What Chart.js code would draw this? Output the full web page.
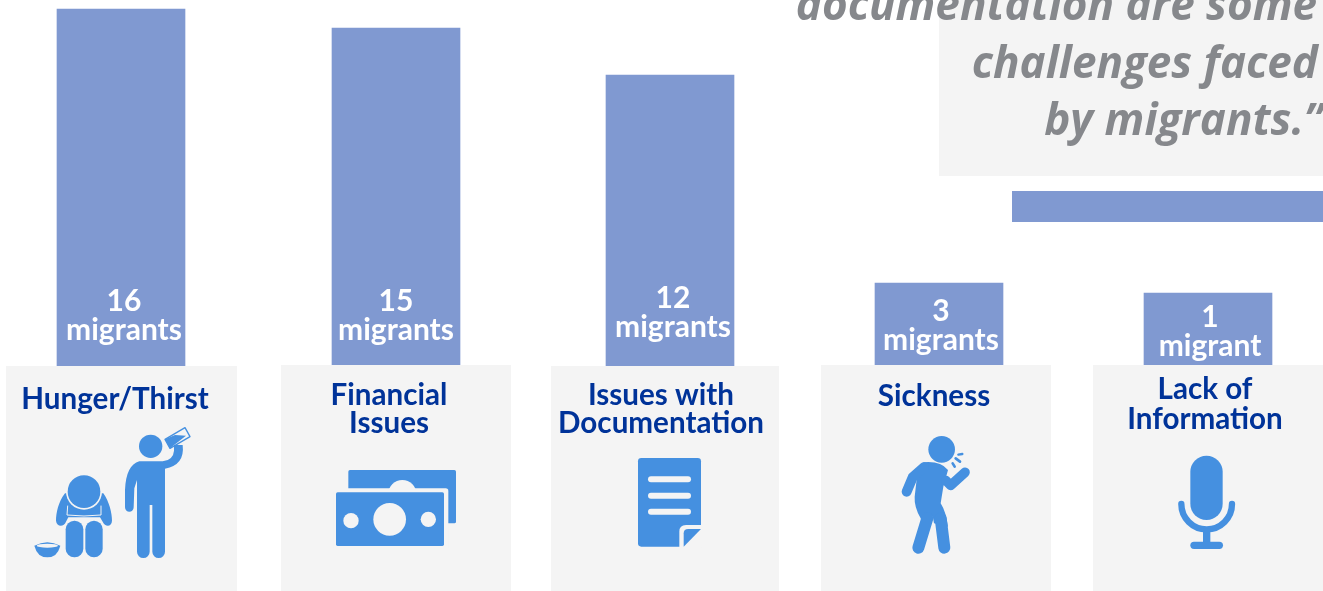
<!DOCTYPE html>
<html><head><meta charset="utf-8">
<style>html,body{margin:0;padding:0;background:#fff;overflow:hidden}canvas{display:block}</style>
<script src="https://cdn.jsdelivr.net/npm/chart.js@4"></script></head>
<body><canvas id="c" width="1323" height="591"></canvas>
<script>
// Data
const categories = [["Hunger/Thirst"],["Financial","Issues"],["Issues with","Documentation"],["Sickness"],["Lack of","Information"]];
const migrantCounts = [16,15,12,3,1];
const countUnits = ["migrants","migrants","migrants","migrants","migrant"];
// The picture's bars are not drawn proportional to the counts: drawn heights, in count units
const barHeights = [16,15.148,13.042,3.72,3.272];
const quoteLines = ["documentation are some","challenges faced","by migrants.”"];

// Layout only
const barCenters = [121,396,670,939,1208];
const labelCenters = [124,396,673,941,1210];
const countY = [301,301,298,311,317];
const unitY = [330,330,327,340,346];
const panels = [[6,366,231],[281,365,230],[551,366,228],[821,365,230],[1093,365,230]];
const titleCenters = [115,389,661,934,1205];
const titleY = [[399],[395,423],[395,423],[396],[389,419]];
const BAR='#8099d1', PANEL='#f4f4f4', ICON='#4590e0', TITLE='#003399', QUOTE='#86888c';

function P(ctx,ox,oy,fn){ctx.save();ctx.translate(ox,oy);ctx.scale(1/3,1/3);ctx.fillStyle=ICON;ctx.strokeStyle=ICON;ctx.lineCap='round';ctx.lineJoin='round';fn(ctx);ctx.restore();}
function circ(c,x,y,r,col){c.beginPath();c.arc(x,y,r,0,Math.PI*2);if(col)c.fillStyle=col;c.fill();c.fillStyle=ICON;}
function rr(c,x,y,w,h,r,col){c.beginPath();c.roundRect(x,y,w,h,r);if(col)c.fillStyle=col;c.fill();c.fillStyle=ICON;}
function line(c,pts,w,col){c.beginPath();pts.forEach((p,i)=>i?c.lineTo(p[0],p[1]):c.moveTo(p[0],p[1]));c.lineWidth=w;c.strokeStyle=col||ICON;c.stroke();c.strokeStyle=ICON;}

function iconHunger(c){
  c.beginPath();c.moveTo(195,640);c.bezierCurveTo(175,665,168,700,168,722);c.bezierCurveTo(170,742,192,742,198,725);
  c.lineTo(205,712);c.lineTo(300,712);c.lineTo(308,725);c.bezierCurveTo(315,742,335,742,336,722);c.bezierCurveTo(336,700,328,665,310,640);c.closePath();c.fill();
  line(c,[[203,678],[201,705],[252,708],[303,705],[303,678]],3,PANEL);
  rr(c,195,720,57,114,28,PANEL);rr(c,197,722,53,110,26);
  rr(c,254,720,56,114,28,PANEL);rr(c,256,722,52,110,26);
  circ(c,252,635,54,PANEL);circ(c,252,635,49);
  c.beginPath();c.moveTo(103,797);c.quadraticCurveTo(112,832,142,832);c.quadraticCurveTo(172,832,181,797);c.quadraticCurveTo(142,776,103,797);c.closePath();c.fill();
  c.beginPath();c.ellipse(142,797,32,6,0,0,Math.PI*2);c.fillStyle=PANEL;c.fill();c.fillStyle=ICON;
  circ(c,452,499,35);
  c.beginPath();c.moveTo(418,544);c.lineTo(488,544);c.quadraticCurveTo(520,540,522,512);c.lineTo(522,495);c.lineTo(548,495);
  c.quadraticCurveTo(555,555,495,566);c.lineTo(495,815);c.arc(476,815,19,0,Math.PI);c.lineTo(457,675);c.lineTo(449,675);c.lineTo(449,815);c.arc(430,815,19,0,Math.PI);
  c.lineTo(411,600);c.lineTo(403,625);c.lineTo(401,682);c.arc(388,682,13,0,Math.PI);c.lineTo(375,630);c.quadraticCurveTo(378,555,418,544);c.closePath();c.fill();
  c.beginPath();c.moveTo(495,478);c.lineTo(555,443);c.lineTo(570,470);c.lineTo(510,505);c.closePath();c.lineWidth=4;c.stroke();
  c.beginPath();c.moveTo(495,478);c.lineTo(525,465);c.lineTo(558,467);c.lineTo(510,505);c.closePath();c.fill();
}
function iconMoney(c){
  rr(c,235,570,323,160,5);
  circ(c,397,642,42,PANEL);
  rr(c,190,625,345,185,8,PANEL);
  rr(c,198,637,324,161,5);
  circ(c,359,718,49,PANEL);circ(c,243,722,23,PANEL);circ(c,475,718,23,PANEL);
}
function iconDoc(c){
  rr(c,294,534,189,266,10);
  [598,647,695].forEach(y=>line(c,[[333,y],[444,y]],18,PANEL));
  c.beginPath();c.moveTo(418,802);c.lineTo(418,755);c.quadraticCurveTo(418,735,438,735);c.lineTo(485,735);c.lineTo(485,802);c.closePath();c.fillStyle=PANEL;c.fill();c.fillStyle=ICON;
  c.beginPath();c.moveTo(431,800);c.lineTo(431,760);c.quadraticCurveTo(431,747,445,747);c.lineTo(483,747);c.closePath();c.fill();
}
function iconSick(c){
  circ(c,395,538,40);
  c.beginPath();c.moveTo(340,577);c.quadraticCurveTo(392,572,414,600);c.lineTo(400,650);c.lineTo(392,700);c.quadraticCurveTo(408,725,414,770);c.lineTo(372,760);c.lineTo(368,738);c.lineTo(345,790);c.lineTo(332,745);c.quadraticCurveTo(312,710,314,680);c.lineTo(320,628);c.closePath();c.fill();
  line(c,[[342,592],[308,622],[290,665]],30);
  line(c,[[408,632],[422,646],[465,607]],29);
  line(c,[[352,745],[325,833]],36);
  line(c,[[392,745],[403,833]],36);
  line(c,[[445,554],[457,552]],7);
  line(c,[[437,565],[450,575]],8);
  line(c,[[428,580],[434,590]],8);
}
function iconMic(c){
  rr(c,361,527,97,193,48.5);
  c.beginPath();c.arc(410,672,76,0,Math.PI);c.lineWidth=19;c.stroke();
  c.fillRect(399,745,22,45);
  rr(c,361,785,98,22,11);
}
const icons=[[0,280,iconHunger],[270,280,iconMoney],[540,280,iconDoc],[810,270,iconSick],[1070,280,iconMic]];

const decor={id:'decor',afterDatasetsDraw(chart){
  const c=chart.ctx;c.save();
  c.fillStyle=PANEL;c.fillRect(939,0,384,176);
  c.fillStyle=BAR;c.fillRect(1012,191,311,31);
  c.fillStyle=QUOTE;c.textAlign='right';c.textBaseline='alphabetic';
  c.font='italic 700 44px "Open Sans"';
  c.fillText(quoteLines[0],1317,20);c.fillText(quoteLines[1],1318,78);c.fillText(quoteLines[2],1323,135);
  c.textAlign='center';c.textBaseline='middle';c.fillStyle='#ffffff';c.font='bold 30px Lato';
  migrantCounts.forEach((v,i)=>{c.fillText(String(v),labelCenters[i],countY[i]);c.fillText(countUnits[i],labelCenters[i],unitY[i]);});
  panels.forEach(p=>{c.fillStyle=PANEL;c.fillRect(p[0],p[1],p[2],591-p[1]);});
  c.fillStyle=TITLE;c.font='bold 29.6px Lato';
  categories.forEach((ls,i)=>ls.forEach((t,j)=>c.fillText(t,titleCenters[i],titleY[i][j])));
  c.restore();
  icons.forEach(a=>P(c,a[0],a[1],a[2]));
}};

new Chart(document.getElementById('c'),{
  type:'bar',
  data:{datasets:[{data:barCenters.map((x,i)=>({x:x,y:barHeights[i]})),backgroundColor:BAR,borderWidth:0,barThickness:128}]},
  options:{responsive:false,animation:false,
    layout:{padding:{left:0,right:0,top:0,bottom:225}},
    plugins:{legend:{display:false},tooltip:{enabled:false},title:{display:false}},
    scales:{x:{type:'linear',min:0,max:1323,offset:false,display:false},
            y:{min:0,max:16.4034,display:false}}},
  plugins:[decor]
});
</script></body></html>
